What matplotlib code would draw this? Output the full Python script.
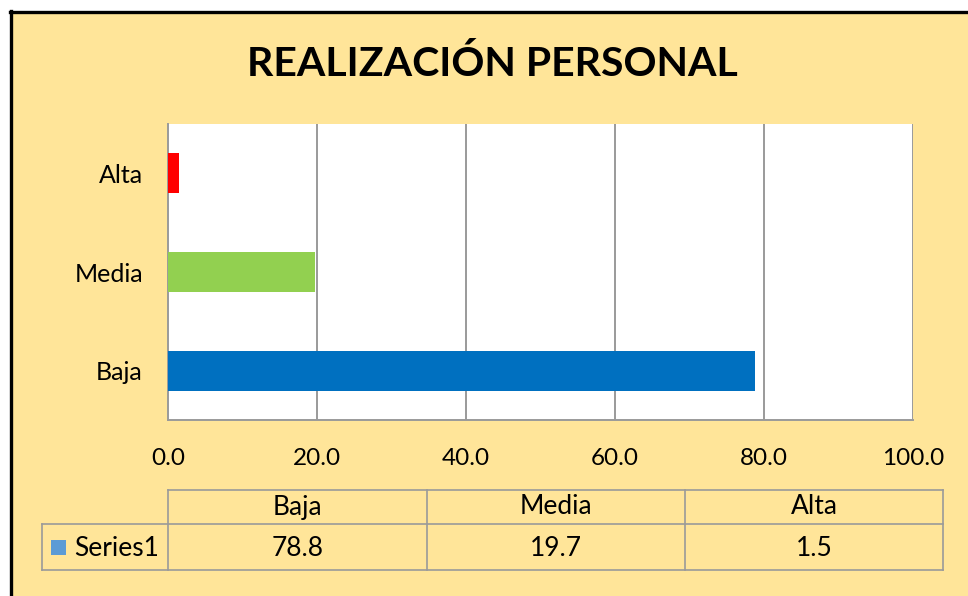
import matplotlib
matplotlib.use("Agg")
import matplotlib.pyplot as plt
from matplotlib.patches import Rectangle
from matplotlib.lines import Line2D

plt.rcParams['font.family'] = ['Lato', 'DejaVu Sans']

categories = ['Baja', 'Media', 'Alta']
values = [78.8, 19.7, 1.5]
bar_colors = ['#0070C0', '#92D050', '#FF0000']
xticks = [0, 20, 40, 60, 80, 100]
series_name = 'Series1'
title = 'REALIZACIÓN PERSONAL'

W, H = 968, 596
bg = '#FFE599'
grid_c = '#9A9A9A'
fs = 18
fs_tab = 19

fig = plt.figure(figsize=(W / 100, H / 100), dpi=100)
fig.patch.set_facecolor('white')


def fx(px):
    return px / W


def fy(py):
    return 1 - py / H


# chart area with black frame on top/left
fig.add_artist(Rectangle((fx(11), 0), 1 - fx(11), fy(12), transform=fig.transFigure,
                         facecolor=bg, edgecolor='none', zorder=0))
fig.add_artist(Line2D([fx(10.5), fx(10.5)], [0, fy(11)], transform=fig.transFigure,
                      color='black', lw=2.4))
fig.add_artist(Line2D([fx(9.5), 1], [fy(11.5), fy(11.5)], transform=fig.transFigure,
                      color='black', lw=2.4))

ax = fig.add_axes([fx(168), fy(420), fx(913) - fx(168), fy(124) - fy(420)])
ax.set_facecolor('white')
ax.barh(range(len(categories)), values, height=0.405, color=bar_colors, zorder=3)
ax.set_xlim(0, 100)
ax.set_ylim(-0.5, 2.5)
ax.set_xticks(xticks)
ax.set_xticklabels([f'{v:.1f}' for v in xticks], fontsize=17.5)
ax.set_yticks(range(len(categories)))
ax.set_yticklabels(categories, fontsize=fs)
ax.tick_params(axis='both', length=0)
ax.tick_params(axis='x', pad=20)
ax.tick_params(axis='y', pad=18)
for v in xticks[1:]:
    ax.axvline(v, color=grid_c, lw=1.4, zorder=1)
for s in ['top', 'right']:
    ax.spines[s].set_visible(False)
for s in ['left', 'bottom']:
    ax.spines[s].set_color(grid_c)
    ax.spines[s].set_linewidth(1.4)

fig.text(fx(492), fy(64), title, ha='center', va='center', fontsize=29.5, fontweight='bold')

# data table under the axis
cols = [168, 427, 685, 943]
tab_top, tab_mid, tab_bot = 490, 524, 570
lkw = dict(transform=fig.transFigure, color=grid_c, lw=1.2)
fig.add_artist(Line2D([fx(168), fx(943)], [fy(tab_top)] * 2, **lkw))
fig.add_artist(Line2D([fx(42), fx(943)], [fy(tab_mid)] * 2, **lkw))
fig.add_artist(Line2D([fx(42), fx(943)], [fy(tab_bot)] * 2, **lkw))
fig.add_artist(Line2D([fx(42), fx(42)], [fy(tab_mid), fy(tab_bot)], **lkw))
for c in cols:
    fig.add_artist(Line2D([fx(c), fx(c)], [fy(tab_top), fy(tab_bot)], **lkw))

for i, (cat, val) in enumerate(zip(categories, values)):
    xc = (cols[i] + cols[i + 1]) / 2
    fig.text(fx(xc), fy(507), cat, ha='center', va='center', fontsize=fs_tab)
    fig.text(fx(xc), fy(548), f'{val:.1f}', ha='center', va='center', fontsize=fs_tab)

fig.add_artist(Rectangle((fx(51), fy(555)), fx(15), fy(540) - fy(555),
                         transform=fig.transFigure, facecolor='#5B9BD5', edgecolor='none'))
fig.text(fx(74), fy(548), series_name, ha='left', va='center', fontsize=fs_tab)

fig.savefig('out.png', dpi=100, facecolor=fig.get_facecolor())
